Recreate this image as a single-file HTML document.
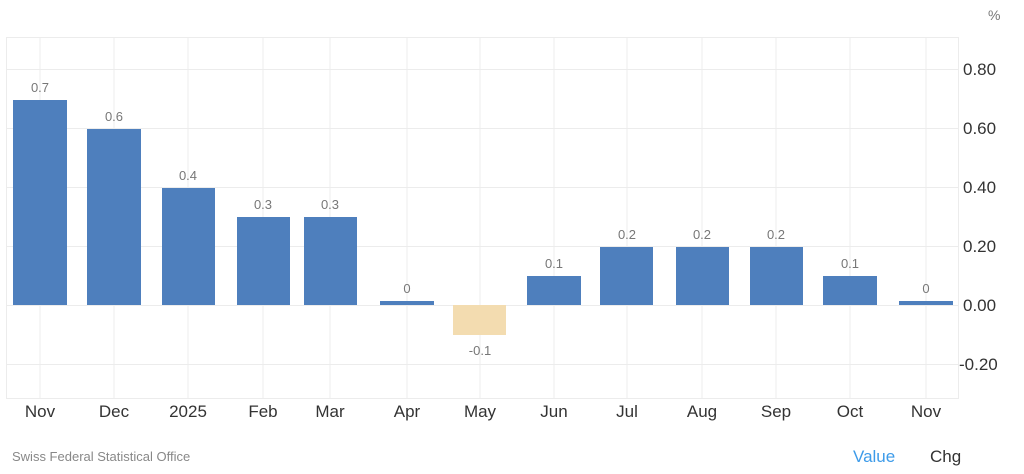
<!DOCTYPE html>
<html><head><meta charset="utf-8"><style>
html,body{margin:0;padding:0;background:#fff;width:1024px;height:474px;overflow:hidden}
svg text{font-family:"Liberation Sans",Arial,sans-serif}
</style></head><body>
<svg width="1024" height="474" xmlns="http://www.w3.org/2000/svg">
<rect width="1024" height="474" fill="#fff"/>
<g stroke="#ececec" stroke-width="1">
<line x1="6" y1="37.5" x2="959" y2="37.5"/>
<line x1="6" y1="69.5" x2="959" y2="69.5"/>
<line x1="6" y1="128.5" x2="959" y2="128.5"/>
<line x1="6" y1="187.5" x2="959" y2="187.5"/>
<line x1="6" y1="246.5" x2="959" y2="246.5"/>
<line x1="6" y1="305.5" x2="959" y2="305.5"/>
<line x1="6" y1="364.5" x2="959" y2="364.5"/>
<line x1="6" y1="398.5" x2="959" y2="398.5"/>
<line x1="6.5" y1="37" x2="6.5" y2="398"/>
<line x1="958.5" y1="37" x2="958.5" y2="398"/>
<line x1="40" y1="37" x2="40" y2="398"/>
<line x1="114" y1="37" x2="114" y2="398"/>
<line x1="188" y1="37" x2="188" y2="398"/>
<line x1="263" y1="37" x2="263" y2="398"/>
<line x1="330" y1="37" x2="330" y2="398"/>
<line x1="407" y1="37" x2="407" y2="398"/>
<line x1="480" y1="37" x2="480" y2="398"/>
<line x1="554" y1="37" x2="554" y2="398"/>
<line x1="627" y1="37" x2="627" y2="398"/>
<line x1="702" y1="37" x2="702" y2="398"/>
<line x1="776" y1="37" x2="776" y2="398"/>
<line x1="850" y1="37" x2="850" y2="398"/>
<line x1="926" y1="37" x2="926" y2="398"/>
</g>
<g fill="#4e7fbd">
<rect x="13" y="100" width="54" height="205"/>
<rect x="87" y="129" width="54" height="176"/>
<rect x="162" y="188" width="53" height="117"/>
<rect x="237" y="217" width="53" height="88"/>
<rect x="304" y="217" width="53" height="88"/>
<rect x="380" y="301" width="54" height="4"/>
<rect x="527" y="276" width="54" height="29"/>
<rect x="600" y="247" width="53" height="58"/>
<rect x="676" y="247" width="53" height="58"/>
<rect x="750" y="247" width="53" height="58"/>
<rect x="823" y="276" width="54" height="29"/>
<rect x="899" y="301" width="54" height="4"/>
</g>
<rect x="453" y="305" width="53" height="30" fill="#f3dcb0"/>
<g fill="#777" font-size="13" text-anchor="middle">
<text x="40" y="92">0.7</text>
<text x="114" y="121">0.6</text>
<text x="188" y="180">0.4</text>
<text x="263" y="209">0.3</text>
<text x="330" y="209">0.3</text>
<text x="407" y="293">0</text>
<text x="480" y="355">-0.1</text>
<text x="554" y="268">0.1</text>
<text x="627" y="239">0.2</text>
<text x="702" y="239">0.2</text>
<text x="776" y="239">0.2</text>
<text x="850" y="268">0.1</text>
<text x="926" y="293">0</text>
</g>
<g fill="#333" font-size="17" text-anchor="start">
<text x="963" y="75">0.80</text>
<text x="963" y="134">0.60</text>
<text x="963" y="193">0.40</text>
<text x="963" y="252">0.20</text>
<text x="963" y="311">0.00</text>
<text x="959" y="370">-0.20</text>
</g>
<text x="988" y="20" fill="#777" font-size="14">%</text>
<g fill="#333" font-size="17" text-anchor="middle">
<text x="40" y="417">Nov</text>
<text x="114" y="417">Dec</text>
<text x="188" y="417">2025</text>
<text x="263" y="417">Feb</text>
<text x="330" y="417">Mar</text>
<text x="407" y="417">Apr</text>
<text x="480" y="417">May</text>
<text x="554" y="417">Jun</text>
<text x="627" y="417">Jul</text>
<text x="702" y="417">Aug</text>
<text x="776" y="417">Sep</text>
<text x="850" y="417">Oct</text>
<text x="926" y="417">Nov</text>
</g>
<text x="12" y="461" fill="#888" font-size="13">Swiss Federal Statistical Office</text>
<text x="853" y="462" fill="#3d9be9" font-size="17">Value</text>
<text x="930" y="462" fill="#333" font-size="17">Chg</text>
</svg>
</body></html>
